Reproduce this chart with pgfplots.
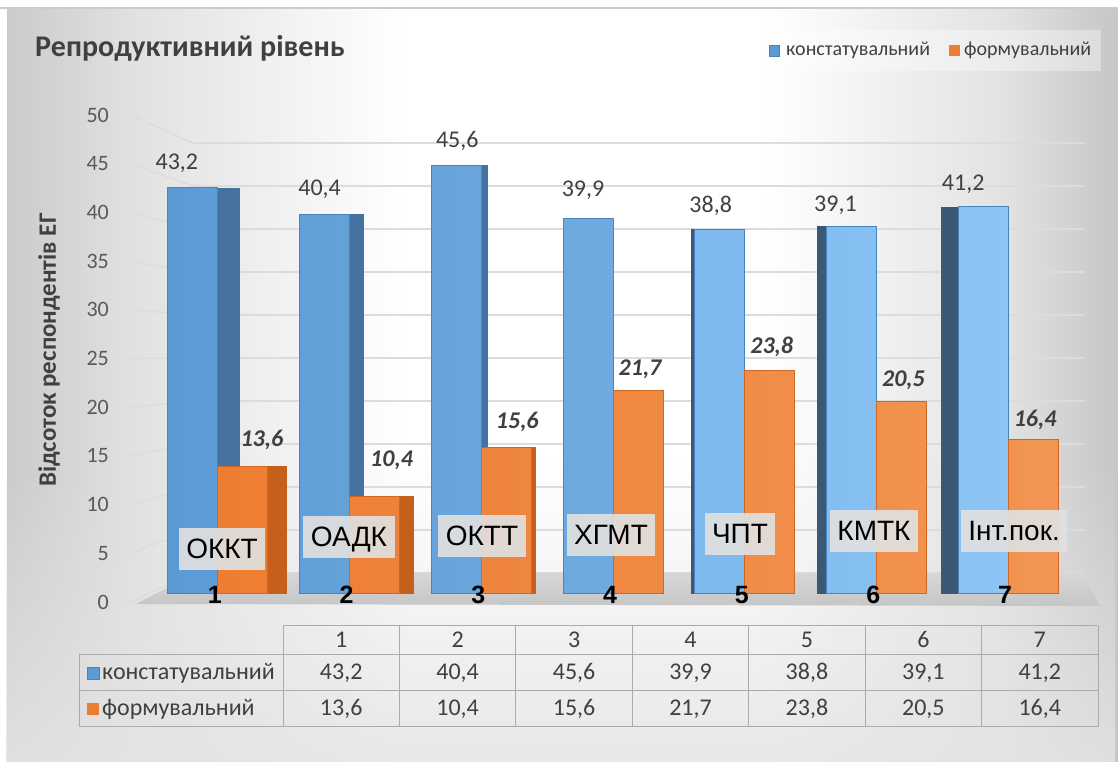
\documentclass[border=0pt]{standalone}
\usepackage{pgfplots}
\pgfplotsset{compat=1.18}
\usepackage{pgfplotstable}
\usepackage{fontspec}
\setmainfont{Carlito}
\newfontfamily\arialfont{Liberation Sans}
\usetikzlibrary{fadings}

\definecolor{txt}{HTML}{404040}
\definecolor{ticktxt}{HTML}{595959}
\definecolor{bluA}{HTML}{5B9BD5}
\definecolor{bluB}{HTML}{6FAAE0}
\definecolor{bluC}{HTML}{7DB9EE}
\definecolor{bluD}{HTML}{8DC4F5}
\definecolor{bluEdge}{HTML}{4A84BD}
\definecolor{bluSide}{HTML}{45729E}
\definecolor{bluSideB}{HTML}{3B5875}
\definecolor{orA}{HTML}{ED7D31}
\definecolor{orB}{HTML}{F29553}
\definecolor{orEdge}{HTML}{D0661F}
\definecolor{orSide}{HTML}{C55F1A}
\definecolor{gridc}{HTML}{DCDCDC}
\definecolor{floorF}{HTML}{C6C6C6}
\definecolor{floorB}{HTML}{D6D6D6}
\definecolor{tabline}{HTML}{ABABAB}
\definecolor{bgL}{HTML}{CBCBCB}
\definecolor{bgM}{HTML}{E2E2E2}
\definecolor{bgR}{HTML}{C6C6C6}
\definecolor{bgBot}{HTML}{E4E4E4}
\definecolor{boxc}{HTML}{E0E0E0}

% chart area: grey at the sides, white in the middle
\pgfdeclarehorizontalshading{chartbg}{100bp}{color(0bp)=(bgL); color(25bp)=(bgL);
  color(31bp)=(bgM); color(43bp)=(white); color(59bp)=(white);
  color(70bp)=(bgM); color(75bp)=(bgR); color(100bp)=(bgR)}

% category, values, label offsets (dx, dy) for both series
\pgfplotstableread{
k b    o    bdx bdy  odx ody
1 43.2 13.6 -16 25   19  26
2 40.4 10.4 -5  25   17  36
3 45.6 15.6  1  24   11  25
4 39.9 21.7 -5  29    2  21
5 38.8 23.8 -9  23    2  23
6 39.1 20.5 -16 21.5  2  21
7 41.2 16.4 -20 22    2  20
}\dataRep

\newcommand\decnum[1]{\pgfmathprintnumber[use comma, fixed, fixed zerofill,
  precision=1, assume math mode=true]{#1}}

\begin{document}
\begin{tikzpicture}[x=1pt,y=1pt]
\useasboundingbox (0,0) rectangle (1118,762);
\fill[white] (0,0) rectangle (1118,762);
\shade[shading=chartbg] (7,0) rectangle (1118,754);
\fill[bgBot, opacity=0.85, path fading=north] (7,0) rectangle (1118,300);
\draw[gray!40, line width=1.2pt] (0,754) -- (1118,754);

% title
\node[anchor=base west, inner sep=0pt, text=txt, font=\bfseries\fontsize{30}{32}\selectfont]
  at (35,705) {Репродуктивний рівень};

% legend
\fill[white, opacity=0.35] (746,691) rectangle (1101,732);
\fill[bluA] (769,706) rectangle (779,717);
\draw[bluEdge, line width=0.6pt] (769,706) rectangle (779,717);
\node[anchor=base west, inner sep=0pt, text=txt, font=\fontsize{20}{20}\selectfont]
  at (786,706) {констатувальний};
\fill[orA] (949,706) rectangle (960,717);
\node[anchor=base west, inner sep=0pt, text=txt, font=\fontsize{20}{20}\selectfont]
  at (964,706) {формувальний};

% y axis title
\node[rotate=90, text=txt, font=\bfseries\fontsize{25}{25}\selectfont] at (49,412)
  {Відсоток респондентів ЕГ};

% side wall of the 3-D frame
\foreach \v in {0,5,...,50}
  \draw[gridc, line width=1.2pt] (130,{160+9.74*\v}) -- (193,{189+8.6*\v});

% back wall grid
\begin{axis}[at={(193pt,189pt)}, anchor=south west, scale only axis,
  width=892pt, height=430pt, xmin=0, xmax=1, ymin=0, ymax=50,
  ytick={0,5,...,50}, yticklabels={}, xtick=\empty,
  ymajorgrids, major grid style={gridc, line width=1.3pt},
  axis line style={draw=none}, major tick length=0pt]
\end{axis}

% floor
\shade[top color=floorB, bottom color=floorF]
  (136,158) -- (1100,156) -- (1082,189) -- (196,189) -- cycle;

% value axis labels on the front edge
\begin{axis}[at={(109pt,160pt)}, anchor=south west, scale only axis,
  width=10pt, height=487pt, xmin=0, xmax=1, ymin=0, ymax=50,
  ytick={0,5,...,50}, xtick=\empty, axis line style={draw=none},
  major tick length=0pt,
  yticklabel style={anchor=east, inner sep=0pt, text=ticktxt,
    font=\fontsize{22}{22}\selectfont},
  /pgf/number format/assume math mode=true]
\end{axis}

% bars
\begin{axis}[at={(152pt,168pt)}, anchor=south west, scale only axis,
  width=922pt, height=470pt, xmin=0.5, xmax=7.5, ymin=0, ymax=50,
  axis on top, axis line style={draw=none}, major tick length=0pt, ytick=\empty,
  xtick={1,...,7}, xticklabels={1,2,3,4,5,6,7},
  xticklabel style={font=\arialfont\bfseries\fontsize{25}{25}\selectfont,
    text=black, anchor=north, inner sep=0pt, xshift=-3pt, yshift=8pt},
  clip=false]

% side faces of the blue prisms
\addplot[ybar, bar width=22pt, bar shift=11pt, fill=bluSide, draw=none, forget plot,
  restrict x to domain=1:1] table[x=k, y=b] {\dataRep};
\addplot[ybar, bar width=14pt, bar shift=7pt, fill=bluSide, draw=none, forget plot,
  restrict x to domain=2:2] table[x=k, y=b] {\dataRep};
\addplot[ybar, bar width=7pt, bar shift=3.5pt, fill=bluSide, draw=none, forget plot,
  restrict x to domain=3:3] table[x=k, y=b] {\dataRep};
\addplot[ybar, bar width=4pt, bar shift=-52pt, fill=bluSideB, draw=none, forget plot,
  restrict x to domain=5:5] table[x=k, y=b] {\dataRep};
\addplot[ybar, bar width=9pt, bar shift=-54.5pt, fill=bluSideB, draw=none, forget plot,
  restrict x to domain=6:6] table[x=k, y=b] {\dataRep};
\addplot[ybar, bar width=17pt, bar shift=-58.5pt, fill=bluSideB, draw=none, forget plot,
  restrict x to domain=7:7] table[x=k, y=b] {\dataRep};

% blue fronts
\addplot[ybar, bar width=50pt, bar shift=-25pt, draw=bluEdge, line width=1pt,
  left color=bluA, right color=bluB, restrict x to domain=1:4,
  visualization depends on={\thisrow{bdx} \as \ldx},
  visualization depends on={\thisrow{bdy} \as \ldy},
  nodes near coords={\decnum{\pgfplotspointmeta}},
  nodes near coords style={anchor=center, xshift=\ldx pt-25pt, yshift=\ldy pt,
    text=txt, font=\fontsize{24}{24}\selectfont}]
  table[x=k, y=b] {\dataRep};
\addplot[ybar, bar width=50pt, bar shift=-25pt, draw=bluEdge, line width=1pt,
  left color=bluC, right color=bluD, restrict x to domain=5:7,
  visualization depends on={\thisrow{bdx} \as \ldx},
  visualization depends on={\thisrow{bdy} \as \ldy},
  nodes near coords={\decnum{\pgfplotspointmeta}},
  nodes near coords style={anchor=center, xshift=\ldx pt-25pt, yshift=\ldy pt,
    text=txt, font=\fontsize{24}{24}\selectfont}]
  table[x=k, y=b] {\dataRep};

% side faces of the orange prisms
\addplot[ybar, bar width=19pt, bar shift=59.5pt, fill=orSide, draw=none, forget plot,
  restrict x to domain=1:1] table[x=k, y=o] {\dataRep};
\addplot[ybar, bar width=14pt, bar shift=57pt, fill=orSide, draw=none, forget plot,
  restrict x to domain=2:2] table[x=k, y=o] {\dataRep};
\addplot[ybar, bar width=5pt, bar shift=52.5pt, fill=orSide, draw=none, forget plot,
  restrict x to domain=3:3] table[x=k, y=o] {\dataRep};

% orange fronts
\addplot[ybar, bar width=50pt, bar shift=25pt, draw=orEdge, line width=1pt,
  left color=orA, right color=orB,
  visualization depends on={\thisrow{odx} \as \ldx},
  visualization depends on={\thisrow{ody} \as \ldy},
  nodes near coords={\decnum{\pgfplotspointmeta}},
  nodes near coords style={anchor=center, xshift=\ldx pt+25pt, yshift=\ldy pt,
    text=txt, font=\bfseries\itshape\fontsize{24}{24}\selectfont}]
  table[x=k, y=o] {\dataRep};
\end{axis}

% category captions
\tikzset{catbox/.style={fill=boxc, fill opacity=0.92, text opacity=1, text=black,
  inner xsep=7.5pt, inner ysep=10pt, text height=21pt, text depth=1pt,
  font=\arialfont\fontsize{28}{28}\selectfont}}
\node[catbox] at (222,213) {ОККТ};
\node[catbox] at (349,225) {ОАДК};
\node[catbox] at (482,226) {ОКТТ};
\node[catbox] at (611,227) {ХГМТ};
\node[catbox] at (740,228) {ЧПТ};
\node[catbox] at (874,231) {КМТК};
\node[catbox] at (1014,231) {Інт.пок.};

% data table
\begin{scope}[tabline, line width=1pt]
  \draw (283,136) -- (1098,136);
  \draw (79,107) -- (1098,107);
  \draw (79,71) -- (1098,71);
  \draw (79,35) -- (1098,35);
  \draw (79,107) -- (79,35);
  \foreach \i in {0,...,7} \draw ({283+116.43*\i},136) -- ({283+116.43*\i},35);
\end{scope}
\fill[bluA] (87,83) rectangle (99,95);
\draw[bluEdge, line width=0.6pt] (87,83) rectangle (99,95);
\fill[orA] (87,47) rectangle (99,59);
\node[anchor=base west, inner sep=0pt, text=txt, font=\fontsize{24}{24}\selectfont]
  at (102,82) {констатувальний};
\node[anchor=base west, inner sep=0pt, text=txt, font=\fontsize{24}{24}\selectfont]
  at (102,46) {формувальний};
\foreach \i in {0,...,6} {
  \pgfplotstablegetelem{\i}{b}\of\dataRep \let\vb\pgfplotsretval
  \pgfplotstablegetelem{\i}{o}\of\dataRep \let\vo\pgfplotsretval
  \pgfplotstablegetelem{\i}{k}\of\dataRep \let\vk\pgfplotsretval
  \pgfmathsetmacro\cx{283+116.43*(\i+0.5)}
  \node[anchor=base, inner sep=0pt, text=txt, font=\fontsize{24}{24}\selectfont]
    at (\cx,114) {\vk};
  \node[anchor=base, inner sep=0pt, text=txt, font=\fontsize{24}{24}\selectfont]
    at (\cx,82) {\decnum{\vb}};
  \node[anchor=base, inner sep=0pt, text=txt, font=\fontsize{24}{24}\selectfont]
    at (\cx,46) {\decnum{\vo}};
}
\end{tikzpicture}
\end{document}
